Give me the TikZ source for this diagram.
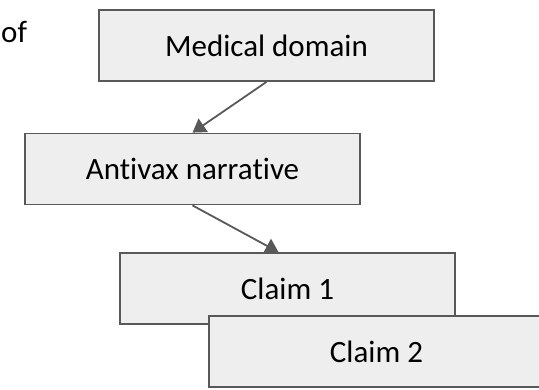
\documentclass[tikz,border=0pt]{standalone}
\usepackage{fontspec}
\setmainfont{Carlito}[Ligatures=NoCommon]
\usetikzlibrary{arrows.meta}
\definecolor{boxfill}{RGB}{238,238,238}
\definecolor{boxline}{RGB}{89,89,89}
\begin{document}
\begin{tikzpicture}[x=1pt,y=-1pt,->,>={Triangle[length=13pt,width=16pt]},
    main node/.style={rectangle,draw=boxline,fill=boxfill,line width=1.8pt,
      minimum width=335pt,minimum height=71pt,inner sep=0pt,
      font=\fontsize{31}{37}\selectfont},
    link/.style={draw=boxline,line width=1.8pt}]
  \clip (0,0) rectangle (539,389);
  \node[anchor=base west,inner sep=0pt,font=\fontsize{31}{37}\selectfont] (0) at (1,42) {of};
  \node[main node] (1) at (266.5,45.5) {Medical domain};
  \node[main node] (2) at (192.5,169)  {Antivax narrative};
  \node[main node] (3) at (287.5,288.5) {Claim 1};
  \node[main node] (4) at (376.5,351.5) {Claim 2};
  \draw[link] (1.south) -- (2.north);
  \draw[link] (2.south) -- ([xshift=-9pt]3.north);
\end{tikzpicture}
\end{document}
